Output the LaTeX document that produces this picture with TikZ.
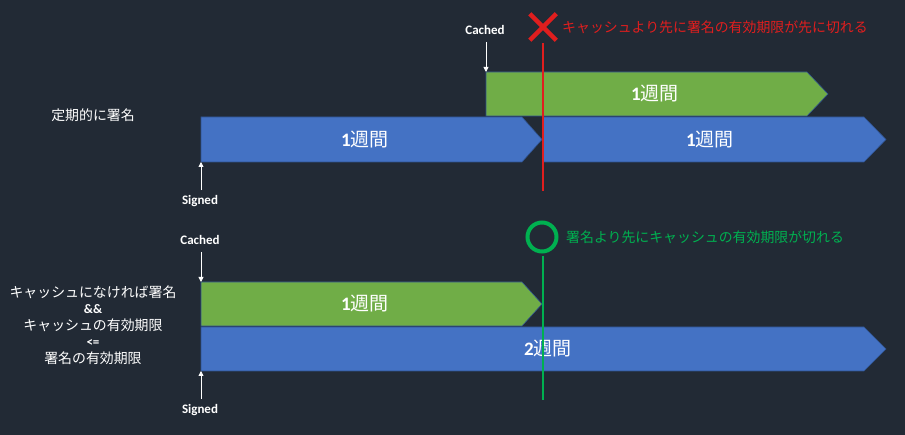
\documentclass[tikz,border=0pt]{standalone}
\usepackage{fontspec}
\usepackage{xcolor}
\usepackage{tikz}
\usetikzlibrary{arrows.meta,shapes.misc}
\setmainfont{Noto Sans CJK JP}
\newfontfamily\latfont{Carlito}
\definecolor{bgnavy}{HTML}{222A35}
\definecolor{bandblue}{HTML}{4472C4}
\definecolor{bandgreen}{HTML}{70AD47}
\definecolor{bandedge}{HTML}{2F528F}
\definecolor{expred}{HTML}{E01E1E}
\definecolor{okgreen}{HTML}{00B050}
\newcommand\wk[1]{{\latfont\bfseries #1}週間}

\begin{document}
\begin{tikzpicture}[x=1pt, y=-1pt,
        band/.style={draw=bandedge, line width=0.6pt},
        blueband/.style={band, fill=bandblue},
        greenband/.style={band, fill=bandgreen},
        weeks/.style={text=white, inner sep=0pt, font=\fontsize{19}{22}\selectfont},
        tag/.style={text=white, inner sep=1pt, font=\latfont\bfseries\fontsize{13}{15}\selectfont},
        note/.style={text=white, align=center, font=\fontsize{13.9}{16.5}\selectfont},
        tick/.style={white, line width=0.8pt, -{Triangle[width=5pt,length=5pt]}},
        msg/.style={anchor=west, inner sep=0pt, font=\fontsize{13.9}{16}\selectfont}]
    \fill[bgnavy] (0,0) rectangle (905,435);
    \useasboundingbox (0,0) rectangle (905,435);

    \node[note] (periodic) at (93,115) {定期的に署名};
    \path[blueband] (201,117) -- (522,117) -- (542,139.5) -- (522,162) -- (201,162) -- cycle;
    \path[blueband] (543,117) -- (864,117) -- (886,139.5) -- (864,162) -- (543,162) -- cycle;
    \path[greenband] (486,72) -- (807,72) -- (828,94) -- (807,116) -- (486,116) -- cycle;
    \node[weeks] (weekA) at (365,139.5) {\wk{1}};
    \node[weeks] (weekB) at (710,139.5) {\wk{1}};
    \node[weeks] (weekC) at (655,94) {\wk{1}};
    \coordinate (greenA) at (486,72);
    \coordinate (blueA) at (201,162);
    \node[tag] (cachedA) at (485,30) {Cached};
    \node[tag] (signedA) at (200,201) {Signed};
    \draw[tick, shorten <=6pt] (cachedA.south -| greenA) -- (greenA);
    \draw[tick, shorten <=4pt] (signedA.north -| blueA) -- (blueA);
    \node[cross out, draw=expred, line width=4.5pt, minimum size=22pt, inner sep=0pt] (xmark) at (543,27) {};
    \coordinate (redbot) at (542.5,191);
    \draw[expred, line width=2pt, shorten <=3pt] (xmark.south -| redbot) -- (redbot);
    \node[msg, text=expred] (latemsg) at (562,27) {キャッシュより先に署名の有効期限が先に切れる};

    \node[note] (rule) at (93,325) {キャッシュになければ署名\\{\latfont\bfseries\fontsize{13}{14}\selectfont\&\&}\\キャッシュの有効期限\\{\latfont\bfseries\fontsize{13}{14}\selectfont <=}\\署名の有効期限};
    \path[greenband] (201,282) -- (522,282) -- (542,304) -- (522,326) -- (201,326) -- cycle;
    \path[blueband] (201,327) -- (864,327) -- (886,349) -- (864,371) -- (201,371) -- cycle;
    \node[weeks] (weekD) at (365,304) {\wk{1}};
    \node[weeks] (weekE) at (548,349) {\wk{2}};
    \coordinate (greenB) at (201,282);
    \coordinate (blueB) at (201,371);
    \node[tag] (cachedB) at (200,240) {Cached};
    \node[tag] (signedB) at (200,410) {Signed};
    \draw[tick, shorten <=6pt] (cachedB.south -| greenB) -- (greenB);
    \draw[tick, shorten <=4pt] (signedB.north -| blueB) -- (blueB);
    \node[circle, draw=okgreen, line width=4pt, minimum size=29pt, inner sep=0pt] (okmark) at (542,237) {};
    \coordinate (okbot) at (543,400);
    \draw[okgreen, line width=2pt, shorten <=2.5pt] (okmark.south -| okbot) -- (okbot);
    \node[msg, text=okgreen] (okmsg) at (566,237) {署名より先にキャッシュの有効期限が切れる};
\end{tikzpicture}
\end{document}
